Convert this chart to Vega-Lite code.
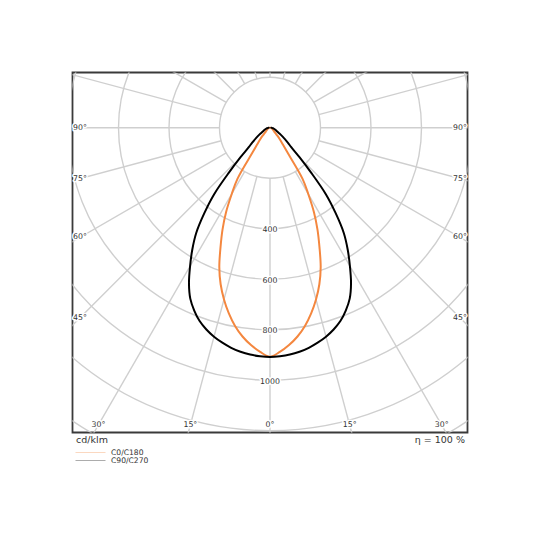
{
  "$schema": "https://vega.github.io/schema/vega-lite/v6.json",
  "width": 395,
  "height": 360,
  "autosize": {"type": "none"},
  "padding": {"left": 72.5, "top": 72.5, "right": 72.5, "bottom": 107.5},
  "background": "white",
  "config": {
    "view": {"stroke": "#3a3a3a", "strokeWidth": 1.8},
    "font": "DejaVu Sans",
    "text": {"font": "DejaVu Sans"}
  },
  "datasets": {
    "rings": [{"I": 200}, {"I": 400}, {"I": 600}, {"I": 800}, {"I": 1000}, {"I": 1200}, {"I": 1400}],
    "spokes": [{"g": 0}, {"g": 15}, {"g": 30}, {"g": 45}, {"g": 60}, {"g": 75}, {"g": 90}, {"g": 105}, {"g": 120}, {"g": 135}, {"g": 150}, {"g": 165}, {"g": 180}, {"g": 195}, {"g": 210}, {"g": 225}, {"g": 240}, {"g": 255}, {"g": 270}, {"g": 285}, {"g": 300}, {"g": 315}, {"g": 330}, {"g": 345}],
    "ringlabels": [{"I": 400}, {"I": 600}, {"I": 800}, {"I": 1000}],
    "anglelabels": [{"gamma": -90}, {"gamma": -75}, {"gamma": -60}, {"gamma": -45}, {"gamma": -30}, {"gamma": -15}, {"gamma": 0}, {"gamma": 15}, {"gamma": 30}, {"gamma": 45}, {"gamma": 60}, {"gamma": 75}, {"gamma": 90}],
    "curves": [
      {"series": "C0/C180", "gamma": -90, "I": 3},
      {"series": "C0/C180", "gamma": -80, "I": 5},
      {"series": "C0/C180", "gamma": -70, "I": 8},
      {"series": "C0/C180", "gamma": -60, "I": 12},
      {"series": "C0/C180", "gamma": -55, "I": 15},
      {"series": "C0/C180", "gamma": -50, "I": 20},
      {"series": "C0/C180", "gamma": -45, "I": 28},
      {"series": "C0/C180", "gamma": -42.5, "I": 43},
      {"series": "C0/C180", "gamma": -40, "I": 61},
      {"series": "C0/C180", "gamma": -37.5, "I": 83},
      {"series": "C0/C180", "gamma": -35, "I": 126},
      {"series": "C0/C180", "gamma": -32.5, "I": 240},
      {"series": "C0/C180", "gamma": -30, "I": 303},
      {"series": "C0/C180", "gamma": -27.5, "I": 377},
      {"series": "C0/C180", "gamma": -25, "I": 445},
      {"series": "C0/C180", "gamma": -22.5, "I": 512},
      {"series": "C0/C180", "gamma": -20, "I": 587},
      {"series": "C0/C180", "gamma": -17.5, "I": 650},
      {"series": "C0/C180", "gamma": -15, "I": 704},
      {"series": "C0/C180", "gamma": -12.5, "I": 753},
      {"series": "C0/C180", "gamma": -10, "I": 797},
      {"series": "C0/C180", "gamma": -7.5, "I": 834},
      {"series": "C0/C180", "gamma": -5, "I": 864},
      {"series": "C0/C180", "gamma": -2.5, "I": 889},
      {"series": "C0/C180", "gamma": 0, "I": 907},
      {"series": "C0/C180", "gamma": 2.5, "I": 889},
      {"series": "C0/C180", "gamma": 5, "I": 864},
      {"series": "C0/C180", "gamma": 7.5, "I": 834},
      {"series": "C0/C180", "gamma": 10, "I": 797},
      {"series": "C0/C180", "gamma": 12.5, "I": 753},
      {"series": "C0/C180", "gamma": 15, "I": 704},
      {"series": "C0/C180", "gamma": 17.5, "I": 650},
      {"series": "C0/C180", "gamma": 20, "I": 587},
      {"series": "C0/C180", "gamma": 22.5, "I": 512},
      {"series": "C0/C180", "gamma": 25, "I": 445},
      {"series": "C0/C180", "gamma": 27.5, "I": 377},
      {"series": "C0/C180", "gamma": 30, "I": 303},
      {"series": "C0/C180", "gamma": 32.5, "I": 240},
      {"series": "C0/C180", "gamma": 35, "I": 126},
      {"series": "C0/C180", "gamma": 37.5, "I": 83},
      {"series": "C0/C180", "gamma": 40, "I": 61},
      {"series": "C0/C180", "gamma": 42.5, "I": 43},
      {"series": "C0/C180", "gamma": 45, "I": 28},
      {"series": "C0/C180", "gamma": 50, "I": 20},
      {"series": "C0/C180", "gamma": 55, "I": 15},
      {"series": "C0/C180", "gamma": 60, "I": 12},
      {"series": "C0/C180", "gamma": 70, "I": 8},
      {"series": "C0/C180", "gamma": 80, "I": 5},
      {"series": "C0/C180", "gamma": 90, "I": 3},
      {"series": "C90/C270", "gamma": -90, "I": 5},
      {"series": "C90/C270", "gamma": -85, "I": 8},
      {"series": "C90/C270", "gamma": -80, "I": 12},
      {"series": "C90/C270", "gamma": -75, "I": 16},
      {"series": "C90/C270", "gamma": -70, "I": 21},
      {"series": "C90/C270", "gamma": -65, "I": 28},
      {"series": "C90/C270", "gamma": -60, "I": 38},
      {"series": "C90/C270", "gamma": -55, "I": 60},
      {"series": "C90/C270", "gamma": -50, "I": 92},
      {"series": "C90/C270", "gamma": -47.5, "I": 113},
      {"series": "C90/C270", "gamma": -45, "I": 165},
      {"series": "C90/C270", "gamma": -42.5, "I": 240},
      {"series": "C90/C270", "gamma": -40, "I": 345},
      {"series": "C90/C270", "gamma": -37.5, "I": 428},
      {"series": "C90/C270", "gamma": -35, "I": 510},
      {"series": "C90/C270", "gamma": -32.5, "I": 573},
      {"series": "C90/C270", "gamma": -30, "I": 633},
      {"series": "C90/C270", "gamma": -27.5, "I": 695},
      {"series": "C90/C270", "gamma": -25, "I": 747},
      {"series": "C90/C270", "gamma": -22.5, "I": 784},
      {"series": "C90/C270", "gamma": -20, "I": 815},
      {"series": "C90/C270", "gamma": -17.5, "I": 838},
      {"series": "C90/C270", "gamma": -15, "I": 857},
      {"series": "C90/C270", "gamma": -12.5, "I": 872},
      {"series": "C90/C270", "gamma": -10, "I": 885},
      {"series": "C90/C270", "gamma": -7.5, "I": 895},
      {"series": "C90/C270", "gamma": -5, "I": 902},
      {"series": "C90/C270", "gamma": -2.5, "I": 906},
      {"series": "C90/C270", "gamma": 0, "I": 908},
      {"series": "C90/C270", "gamma": 2.5, "I": 906},
      {"series": "C90/C270", "gamma": 5, "I": 902},
      {"series": "C90/C270", "gamma": 7.5, "I": 895},
      {"series": "C90/C270", "gamma": 10, "I": 885},
      {"series": "C90/C270", "gamma": 12.5, "I": 872},
      {"series": "C90/C270", "gamma": 15, "I": 857},
      {"series": "C90/C270", "gamma": 17.5, "I": 838},
      {"series": "C90/C270", "gamma": 20, "I": 815},
      {"series": "C90/C270", "gamma": 22.5, "I": 784},
      {"series": "C90/C270", "gamma": 25, "I": 747},
      {"series": "C90/C270", "gamma": 27.5, "I": 695},
      {"series": "C90/C270", "gamma": 30, "I": 633},
      {"series": "C90/C270", "gamma": 32.5, "I": 573},
      {"series": "C90/C270", "gamma": 35, "I": 510},
      {"series": "C90/C270", "gamma": 37.5, "I": 428},
      {"series": "C90/C270", "gamma": 40, "I": 345},
      {"series": "C90/C270", "gamma": 42.5, "I": 240},
      {"series": "C90/C270", "gamma": 45, "I": 165},
      {"series": "C90/C270", "gamma": 47.5, "I": 113},
      {"series": "C90/C270", "gamma": 50, "I": 92},
      {"series": "C90/C270", "gamma": 55, "I": 60},
      {"series": "C90/C270", "gamma": 60, "I": 38},
      {"series": "C90/C270", "gamma": 65, "I": 28},
      {"series": "C90/C270", "gamma": 70, "I": 21},
      {"series": "C90/C270", "gamma": 75, "I": 16},
      {"series": "C90/C270", "gamma": 80, "I": 12},
      {"series": "C90/C270", "gamma": 85, "I": 8},
      {"series": "C90/C270", "gamma": 90, "I": 5}
    ],
    "noteleft": [{"note": "cd/klm", "px": -768, "py": -1237}],
    "noteright": [{"note": "η = 100 %", "px": 772, "py": -1237}]
  },
  "layer": [
    {
      "data": {"name": "rings"},
      "mark": {"type": "arc", "filled": false, "stroke": "#cfcfcf", "strokeWidth": 1.4, "theta": 0, "theta2": 6.2832, "clip": true},
      "encoding": {
        "x": {"datum": 0, "type": "quantitative", "scale": {"domain": [-782.2, 782.2], "nice": false, "zero": false}, "axis": null},
        "y": {"datum": 0, "type": "quantitative", "scale": {"domain": [-1207.1, 218.6], "nice": false, "zero": false}, "axis": null},
        "radius": {"field": "I", "type": "quantitative", "stack": null, "scale": {"type": "linear", "domain": [0, 1400], "range": [0, 353.5], "zero": true}}
      }
    },
    {
      "data": {"name": "spokes"},
      "transform": [
        {"calculate": "datum.g*PI/180", "as": "a"},
        {"calculate": "200*sin(datum.a)", "as": "x1"},
        {"calculate": "-200*cos(datum.a)", "as": "y1"},
        {"calculate": "3000*sin(datum.a)", "as": "x2"},
        {"calculate": "-3000*cos(datum.a)", "as": "y2"}
      ],
      "mark": {"type": "rule", "stroke": "#cfcfcf", "strokeWidth": 1.4, "clip": true},
      "encoding": {
        "x": {"field": "x1", "type": "quantitative", "scale": {"domain": [-782.2, 782.2], "nice": false, "zero": false}, "axis": null},
        "y": {"field": "y1", "type": "quantitative", "scale": {"domain": [-1207.1, 218.6], "nice": false, "zero": false}, "axis": null},
        "x2": {"field": "x2"},
        "y2": {"field": "y2"}
      }
    },
    {
      "data": {"name": "ringlabels"},
      "transform": [
        {"calculate": "-datum.I", "as": "ly"},
        {"calculate": "''+datum.I", "as": "txt"}
      ],
      "encoding": {
        "x": {"datum": 0, "type": "quantitative", "scale": {"domain": [-782.2, 782.2], "nice": false, "zero": false}, "axis": null},
        "y": {"field": "ly", "type": "quantitative", "scale": {"domain": [-1207.1, 218.6], "nice": false, "zero": false}, "axis": null},
        "text": {"field": "txt"}
      },
      "layer": [
        {"mark": {"type": "text", "fontSize": 7.8, "stroke": "white", "strokeWidth": 3, "strokeJoin": "round", "fill": "white", "baseline": "middle", "align": "center", "dy": 1.5}},
        {"mark": {"type": "text", "fontSize": 7.8, "fill": "#333333", "baseline": "middle", "align": "center", "dy": 1.5}}
      ]
    },
    {
      "data": {"name": "anglelabels"},
      "transform": [
        {"calculate": "datum.gamma*PI/180", "as": "a"},
        {"calculate": "min(752.5/max(abs(sin(datum.a)),0.000001), 1177.4/max(cos(datum.a),0.000001))", "as": "r"},
        {"calculate": "datum.r*sin(datum.a)", "as": "lx"},
        {"calculate": "-datum.r*cos(datum.a)", "as": "ly"},
        {"calculate": "abs(datum.gamma)+'°'", "as": "txt"}
      ],
      "encoding": {
        "x": {"field": "lx", "type": "quantitative", "scale": {"domain": [-782.2, 782.2], "nice": false, "zero": false}, "axis": null},
        "y": {"field": "ly", "type": "quantitative", "scale": {"domain": [-1207.1, 218.6], "nice": false, "zero": false}, "axis": null},
        "text": {"field": "txt"}
      },
      "layer": [
        {"mark": {"type": "text", "fontSize": 7.8, "stroke": "white", "strokeWidth": 3, "strokeJoin": "round", "fill": "white", "baseline": "middle", "align": "center"}},
        {"mark": {"type": "text", "fontSize": 7.8, "fill": "#333333", "baseline": "middle", "align": "center"}}
      ]
    },
    {
      "data": {"name": "curves"},
      "transform": [
        {"calculate": "datum.gamma*PI/180", "as": "a"},
        {"calculate": "datum.I*sin(datum.a)", "as": "cx"},
        {"calculate": "-datum.I*cos(datum.a)", "as": "cy"}
      ],
      "mark": {"type": "line", "interpolate": "catmull-rom", "strokeWidth": 2, "strokeCap": "round", "strokeJoin": "round", "clip": true},
      "encoding": {
        "x": {"field": "cx", "type": "quantitative", "scale": {"domain": [-782.2, 782.2], "nice": false, "zero": false}, "axis": null},
        "y": {"field": "cy", "type": "quantitative", "scale": {"domain": [-1207.1, 218.6], "nice": false, "zero": false}, "axis": null},
        "order": {"field": "gamma", "type": "quantitative"},
        "color": {
          "field": "series",
          "type": "nominal",
          "scale": {"domain": ["C0/C180", "C90/C270"], "range": ["#f4873f", "#000000"]},
          "legend": {
            "title": null,
            "orient": "none",
            "legendX": 2.5,
            "legendY": 376,
            "padding": 0,
            "symbolType": "stroke",
            "symbolSize": 900,
            "symbolStrokeWidth": 1,
            "symbolOpacity": 0.32,
            "clipHeight": 8,
            "rowPadding": 0,
            "labelOffset": 5,
            "labelFontSize": 7.6,
            "labelFont": "DejaVu Sans",
            "labelColor": "#333333"
          }
        }
      }
    },
    {
      "data": {"name": "noteleft"},
      "mark": {"type": "text", "fontSize": 9.5, "fill": "#333333", "baseline": "middle", "align": "left"},
      "encoding": {
        "x": {"field": "px", "type": "quantitative", "scale": {"domain": [-782.2, 782.2], "nice": false, "zero": false}, "axis": null},
        "y": {"field": "py", "type": "quantitative", "scale": {"domain": [-1207.1, 218.6], "nice": false, "zero": false}, "axis": null},
        "text": {"field": "note"}
      }
    },
    {
      "data": {"name": "noteright"},
      "mark": {"type": "text", "fontSize": 9.5, "fill": "#333333", "baseline": "middle", "align": "right"},
      "encoding": {
        "x": {"field": "px", "type": "quantitative", "scale": {"domain": [-782.2, 782.2], "nice": false, "zero": false}, "axis": null},
        "y": {"field": "py", "type": "quantitative", "scale": {"domain": [-1207.1, 218.6], "nice": false, "zero": false}, "axis": null},
        "text": {"field": "note"}
      }
    }
  ]
}
